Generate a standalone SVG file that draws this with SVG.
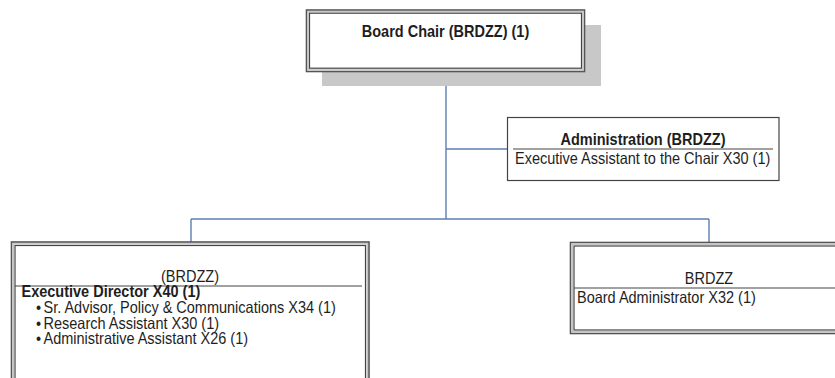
<svg xmlns="http://www.w3.org/2000/svg" width="835" height="378" viewBox="0 0 835 378">
  <style>
    text { font-family: "Liberation Sans", Arial, sans-serif; font-size: 14.5px; fill: #1e1e1e; }
    .b { font-weight: bold; }
    .c { text-anchor: middle; }
    .outer { fill: #ffffff; stroke: #555; stroke-width: 1.6; }
    .inner { fill: #ffffff; stroke: #444; stroke-width: 1.2; }
    .gap { fill: none; stroke: #c4c4c4; stroke-width: 1.4; }
    .single { fill: #ffffff; stroke: #444; stroke-width: 1.2; }
    .rule { stroke: #444; stroke-width: 1.1; }
    .wire { fill: none; stroke: #5b7fb2; stroke-width: 1.4; }
    .shadow { fill: #c8c8c8; }
  </style>
  <rect width="835" height="378" fill="#ffffff"/>

  <!-- connectors -->
  <g id="connectors">
    <path class="wire" d="M446 72 V219"/>
    <path class="wire" d="M446 149 H507"/>
    <path class="wire" d="M191 219 H709"/>
    <path class="wire" d="M191 219 V242"/>
    <path class="wire" d="M709 219 V242"/>
  </g>

  <!-- top node; text is drawn slightly taller than wide via matrix(1 0 0 1.08 x y) -->
  <g id="board-chair">
    <rect class="shadow" x="322" y="25" width="279" height="61"/>
    <rect class="outer" x="306.5" y="10" width="278" height="61.5"/>
    <rect class="gap" x="308" y="11.6" width="275" height="58.3"/>
    <rect class="inner" x="309.5" y="13.2" width="272" height="55"/>
    <text class="b c" transform="matrix(1 0 0 1.08 445.5 37)">Board Chair (BRDZZ) (1)</text>
  </g>

  <!-- staff node beside the chair line -->
  <g id="administration">
    <rect class="single" x="507.5" y="117.5" width="271.5" height="63"/>
    <line class="rule" x1="513" y1="149" x2="773" y2="149"/>
    <text class="b c" transform="matrix(1 0 0 1.08 643 145)">Administration (BRDZZ)</text>
    <text transform="matrix(1 0 0 1.08 515 163.5)">Executive Assistant to the Chair X30 (1)</text>
  </g>

  <!-- left branch -->
  <g id="executive-director">
    <rect class="outer" x="11.5" y="242" width="357.5" height="150"/>
    <rect class="gap" x="13.3" y="243.8" width="354" height="150"/>
    <rect class="inner" x="15" y="245.5" width="350.5" height="150"/>
    <line class="rule" x1="15" y1="286" x2="362" y2="286"/>
    <text class="c" transform="matrix(1 0 0 1.08 190 282)">(BRDZZ)</text>
    <text class="b" transform="matrix(1 0 0 1.08 21.5 297)">Executive Director X40 (1)</text>
    <text transform="matrix(1 0 0 1.08 36 312.8)">•</text>
    <text transform="matrix(1 0 0 1.08 43.5 312.8)">Sr. Advisor, Policy &amp; Communications X34 (1)</text>
    <text transform="matrix(1 0 0 1.08 36 328.5)">•</text>
    <text transform="matrix(1 0 0 1.08 43.5 328.5)">Research Assistant X30 (1)</text>
    <text transform="matrix(1 0 0 1.08 36 344)">•</text>
    <text transform="matrix(1 0 0 1.08 43.5 344)">Administrative Assistant X26 (1)</text>
  </g>

  <!-- right branch -->
  <g id="board-administrator">
    <rect class="outer" x="570.5" y="242.5" width="290" height="91"/>
    <rect class="gap" x="572.3" y="244.3" width="286" height="87.4"/>
    <rect class="inner" x="574" y="246" width="283" height="84"/>
    <line class="rule" x1="574" y1="288" x2="835" y2="288"/>
    <text class="c" transform="matrix(1 0 0 1.08 709 283.5)">BRDZZ</text>
    <text transform="matrix(1 0 0 1.08 577 302.5)">Board Administrator X32 (1)</text>
  </g>
</svg>
